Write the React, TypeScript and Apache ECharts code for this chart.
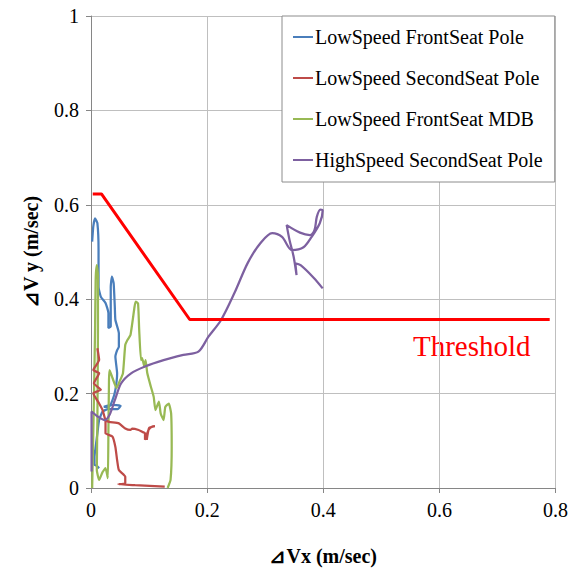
import React, { useEffect, useRef } from "react";
import * as echarts from "echarts";

const xTicks = [0, 0.2, 0.4, 0.6, 0.8];
const yTicks = [0, 0.2, 0.4, 0.6, 0.8, 1];

const seriesNames = [
  "LowSpeed FrontSeat Pole",
  "LowSpeed SecondSeat Pole",
  "LowSpeed FrontSeat MDB",
  "HighSpeed SecondSeat Pole",
];

const lowFrontPole: number[][] = [
  [0.002, 0.522], [0.004, 0.555], [0.007, 0.571], [0.011, 0.561], [0.013, 0.504],
  [0.013, 0.426], [0.017, 0.405], [0.025, 0.392], [0.030, 0.371], [0.030, 0.339],
  [0.034, 0.342], [0.034, 0.426], [0.036, 0.448], [0.039, 0.434], [0.041, 0.384],
  [0.042, 0.356], [0.048, 0.328], [0.048, 0.299], [0.045, 0.292], [0.042, 0.278],
  [0.045, 0.243], [0.042, 0.208], [0.037, 0.186], [0.031, 0.172], [0.022, 0.172],
  [0.036, 0.176], [0.051, 0.174], [0.046, 0.167], [0.029, 0.167], [0.020, 0.162],
  [0.014, 0.144], [0.011, 0.116], [0.008, 0.087], [0.006, 0.066], [0.006, 0.049],
  [0.010, 0.047], [0.014, 0.042],
];

const lowSecondPole: number[][] = [
  [0.011, 0.296], [0.014, 0.271], [0.004, 0.250], [0.014, 0.243], [0.005, 0.222],
  [0.017, 0.208], [0.004, 0.201], [0.014, 0.179], [0.020, 0.165], [0.025, 0.144],
  [0.031, 0.140], [0.048, 0.137], [0.059, 0.126], [0.068, 0.123], [0.071, 0.126],
  [0.082, 0.123], [0.088, 0.119], [0.093, 0.116], [0.093, 0.102], [0.099, 0.123],
  [0.105, 0.130], [0.110, 0.131], [0.100, 0.127], [0.096, 0.102], [0.100, 0.127],
  [0.110, 0.131], [0.105, 0.130], [0.099, 0.123], [0.093, 0.102], [0.093, 0.116],
  [0.088, 0.119], [0.082, 0.123], [0.071, 0.126], [0.068, 0.123], [0.059, 0.126],
  [0.048, 0.137], [0.031, 0.140], [0.025, 0.144], [0.025, 0.116], [0.037, 0.109],
  [0.042, 0.087], [0.045, 0.059], [0.048, 0.038], [0.059, 0.024], [0.059, 0.010],
  [0.047, 0.008], [0.076, 0.006], [0.127, 0.003],
];

const lowFrontMDB: number[][] = [
  [0.002, 0.0], [0.003, 0.059], [0.005, 0.186], [0.007, 0.335], [0.008, 0.441],
  [0.010, 0.472], [0.012, 0.451], [0.012, 0.335], [0.011, 0.144], [0.010, 0.038],
  [0.014, 0.017], [0.020, 0.034], [0.025, 0.042], [0.029, 0.021], [0.030, 0.123],
  [0.031, 0.229], [0.032, 0.250], [0.037, 0.233], [0.044, 0.212], [0.049, 0.225],
  [0.055, 0.243], [0.059, 0.303], [0.063, 0.314], [0.068, 0.324], [0.075, 0.384],
  [0.077, 0.395], [0.081, 0.391], [0.083, 0.335], [0.086, 0.271], [0.088, 0.275],
  [0.092, 0.257], [0.094, 0.271], [0.097, 0.243], [0.103, 0.215], [0.108, 0.193],
  [0.111, 0.165], [0.117, 0.183], [0.120, 0.158], [0.125, 0.144], [0.128, 0.172],
  [0.134, 0.179], [0.138, 0.158], [0.139, 0.087], [0.137, 0.017], [0.132, 0.0],
];

const highSecondPole: number[][] = [
  [0.001, 0.035], [0.001, 0.100], [0.001, 0.162], [0.012, 0.151], [0.024, 0.144],
  [0.032, 0.155], [0.041, 0.186], [0.052, 0.222], [0.069, 0.243], [0.092, 0.257],
  [0.125, 0.271], [0.159, 0.282], [0.185, 0.289], [0.202, 0.320], [0.224, 0.356],
  [0.247, 0.413], [0.270, 0.477], [0.292, 0.519], [0.312, 0.540], [0.329, 0.532],
  [0.346, 0.504], [0.366, 0.510], [0.380, 0.532], [0.394, 0.561], [0.399, 0.588],
  [0.395, 0.590], [0.389, 0.575], [0.385, 0.547], [0.377, 0.536], [0.360, 0.541],
  [0.337, 0.557], [0.342, 0.525], [0.349, 0.490], [0.354, 0.451], [0.352, 0.476],
  [0.361, 0.472], [0.383, 0.446], [0.399, 0.423],
];

const threshold: number[][] = [
  [0.003, 0.623], [0.018, 0.623], [0.17, 0.357], [0.79, 0.357],
];

const colors = ["#4a7ebb", "#be4b48", "#98b954", "#7d60a0"];
const zOrder = [3, 5, 4, 6];
const FONT = "Liberation Serif";

export default function App() {
  const ref = useRef<HTMLDivElement>(null);
  useEffect(() => {
    if (!ref.current) return;
    const chart = echarts.init(ref.current, null, { renderer: "svg" });
    const dataSets = [lowFrontPole, lowSecondPole, lowFrontMDB, highSecondPole];
    chart.setOption({
      animation: false,
      backgroundColor: "#ffffff",
      textStyle: { fontFamily: FONT },
      grid: { left: 91, right: 8, top: 16, bottom: 84 },
      legend: {
        data: seriesNames,
        orient: "vertical",
        left: 282,
        top: 16,
        width: 274,
        padding: [11, 12, 12, 11],
        itemGap: 21,
        itemWidth: 20,
        itemHeight: 2,
        icon: "rect",
        borderColor: "#8c8c8c",
        borderWidth: 1,
        backgroundColor: "#ffffff",
        textStyle: { fontFamily: FONT, fontSize: 20, color: "#000", padding: [0, 0, 0, -3] },
      },
      xAxis: {
        type: "value",
        min: xTicks[0],
        max: xTicks[xTicks.length - 1],
        interval: 0.2,
        name: "⊿Vx (m/sec)",
        nameLocation: "middle",
        nameGap: 58,
        nameTextStyle: { fontFamily: FONT, fontSize: 20, fontWeight: "bold", color: "#000" },
        axisLine: { show: true, lineStyle: { color: "#868686", width: 1 } },
        axisTick: { show: true, length: 5, lineStyle: { color: "#868686" } },
        axisLabel: { fontFamily: FONT, fontSize: 20, color: "#000", margin: 12 },
        splitLine: { show: true, lineStyle: { color: "#bfbfbf", width: 1 } },
      },
      yAxis: {
        type: "value",
        min: yTicks[0],
        max: yTicks[yTicks.length - 1],
        interval: 0.2,
        name: "⊿V y (m/sec)",
        nameLocation: "middle",
        nameGap: 50,
        nameTextStyle: { fontFamily: FONT, fontSize: 20, fontWeight: "bold", color: "#000" },
        axisLine: { show: true, lineStyle: { color: "#868686", width: 1 } },
        axisTick: { show: true, length: 5, lineStyle: { color: "#868686" } },
        axisLabel: { fontFamily: FONT, fontSize: 20, color: "#000", margin: 12 },
        splitLine: { show: true, lineStyle: { color: "#bfbfbf", width: 1 } },
      },
      series: [
        ...dataSets.map((d, i) => ({
          name: seriesNames[i],
          type: "line",
          data: d,
          showSymbol: false,
          smooth: i === 3 ? 0.3 : 0.15,
          color: colors[i],
          lineStyle: { color: colors[i], width: 2.25 },
          z: zOrder[i],
        })),
        {
          name: "Threshold",
          type: "line",
          data: threshold,
          showSymbol: false,
          color: "#ff0000",
          lineStyle: { color: "#ff0000", width: 3 },
          z: 10,
        },
      ],
      graphic: [
        {
          type: "text",
          left: 413,
          top: 331,
          style: { text: "Threshold", fill: "#ff0000", fontFamily: FONT, fontSize: 29 },
        },
      ],
    });
    return () => chart.dispose();
  }, []);
  return (
    <div
      ref={ref}
      style={{ position: "fixed", left: 0, top: 0, width: 571, height: 572 }}
    />
  );
}
